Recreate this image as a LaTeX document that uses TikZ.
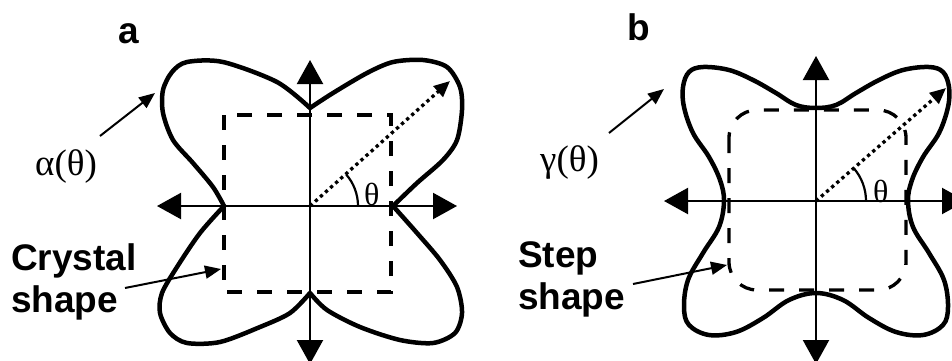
\documentclass[tikz,border=0pt]{standalone}
\usepackage{fontspec}
\setmainfont{Liberation Sans}
\newfontfamily\serifgr{Liberation Serif}
\usetikzlibrary{arrows.meta}
\tikzset{
  curveline/.style={line width=4.5pt, line join=round, line cap=round},
  axisline/.style={line width=2.2pt, {Triangle[length=24pt,width=26pt]}-{Triangle[length=24pt,width=26pt]}},
  dashbox/.style={line width=3.3pt, dash pattern=on 15pt off 15pt},
  dotline/.style={line width=3.3pt, dash pattern=on 3.3pt off 3.5pt, -{Triangle[length=16pt,width=14pt]}},
  lblarrow/.style={line width=2pt, -{Triangle[length=16pt,width=13pt]}},
  anglearc/.style={line width=2.2pt},
  boldlbl/.style={font=\fontsize{37}{42}\selectfont\bfseries, inner sep=0pt, align=left},
  greeklbl/.style={font=\serifgr\fontsize{37}{40}\selectfont, inner sep=0pt},
  thetalbl/.style={font=\serifgr\fontsize{32}{36}\selectfont, inner sep=0pt},
}
\begin{document}
\begin{tikzpicture}[x=1pt,y=-1pt]
\useasboundingbox (0,0) rectangle (952,360);
\clip (0,0) rectangle (952,360);

% ---------------- panel a ----------------
\coordinate (oa) at (310,206);
\coordinate (aL) at (157,206);
\coordinate (aR) at (457,206);
\coordinate (aT) at (310,60);
\coordinate (aB) at (310,364);
\coordinate (aD) at (450,81);
\coordinate (aArc) at (358,206);

\draw[dashbox] (224,115) rectangle (391,292);

\draw[curveline]
  plot[smooth] coordinates {(310,108) (333,93) (367,73) (393,62) (423,60) (447,67) (460,87) (462,110) (457,140) (443,160) (417,183) (393,206)}
  -- plot[smooth] coordinates {(393,206) (417,233) (440,260) (457,287) (462,313) (455,333) (433,343) (400,340) (360,327) (327,310) (310,293)}
  -- plot[smooth] coordinates {(310,293) (290,313) (260,327) (220,342) (187,343) (170,333) (160,313) (162,293) (177,267) (200,233) (224,206)}
  -- plot[smooth] coordinates {(224,206) (213,187) (193,163) (173,140) (163,113) (163,90) (172,72) (187,62) (223,62) (277,82) (310,108)};

\draw[axisline] (aL) -- (aR);
\draw[axisline] (aT) -- (aB);
\draw[dotline] (oa) -- (aD);
\draw[anglearc] (aArc) arc[start angle=0, end angle=41, radius=48pt];

\node[boldlbl, anchor=base west] (labela) at (118,43) {a};
\node[greeklbl, anchor=base west] (alpha) at (35,175) {α(θ)};
\node[thetalbl, anchor=base west] (tha) at (364,205) {θ};
\node[boldlbl, anchor=north west] (crystal) at (11,243) {Crystal\\shape};

\coordinate (alphaS) at (100,136);
\coordinate (alphaE) at (155,93);
\draw[lblarrow] (alphaS) -- (alphaE);
\coordinate (crysS) at (125,288);
\coordinate (crysE) at (221,269);
\draw[lblarrow] (crysS) -- (crysE);

% ---------------- panel b ----------------
\coordinate (ob) at (816,201);
\coordinate (bL) at (664,201);
\coordinate (bR) at (966,201);
\coordinate (bT) at (816,56);
\coordinate (bB) at (816,364);
\coordinate (bD) at (946,88);
\coordinate (bArc) at (866,201);

\draw[dashbox, rounded corners=28pt] (729,110) rectangle (906,290);

\draw[curveline]
  plot[smooth cycle, tension=0.6] coordinates {
   (816,108) (796,105) (776,93) (753,80) (729,70) (703,67) (689,72) (683,87) (684,107)
   (693,133) (709,157) (720,180) (724,201) (719,227) (703,253) (688,280) (684,307)
   (689,325) (709,335) (736,332) (763,318) (789,300) (816,293)
   (843,300) (869,318) (896,332) (923,335) (943,325) (948,307) (944,280) (929,253)
   (913,227) (908,201) (912,180) (923,157) (939,133) (948,107) (949,87) (943,72)
   (929,67) (903,70) (879,80) (856,93) (836,105)};

\draw[axisline] (bL) -- (bR);
\draw[axisline] (bT) -- (bB);
\draw[dotline] (ob) -- (bD);
\draw[anglearc] (bArc) arc[start angle=0, end angle=41, radius=50pt];

\node[boldlbl, anchor=base west] (labelb) at (627,40) {b};
\node[greeklbl, anchor=base west] (gamma) at (540,171) {γ(θ)};
\node[thetalbl, anchor=base west] (thb) at (873,202) {θ};
\node[boldlbl, anchor=north west] (step) at (518,241) {Step\\shape};

\coordinate (gamS) at (609,133);
\coordinate (gamE) at (664,89);
\draw[lblarrow] (gamS) -- (gamE);
\coordinate (stepS) at (633,284);
\coordinate (stepE) at (727,265);
\draw[lblarrow] (stepS) -- (stepE);
\end{tikzpicture}
\end{document}
